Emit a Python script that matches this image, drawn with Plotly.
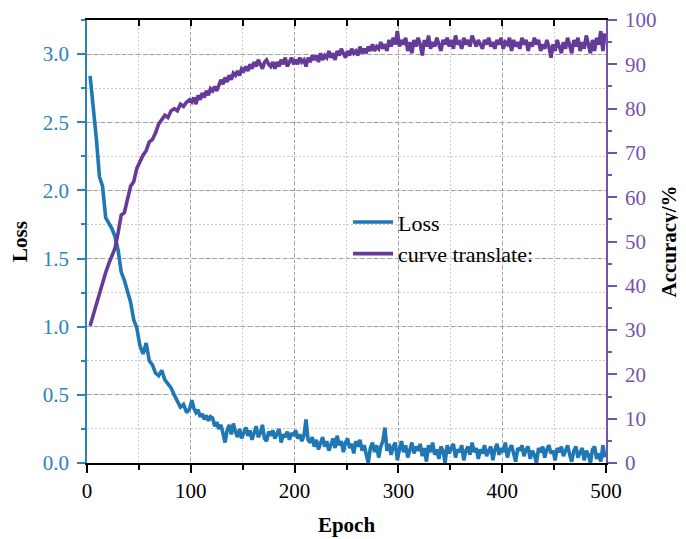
import plotly.graph_objects as go

# read every 3 epochs up to 99, then every 2 epochs
epochs = list(range(3, 100, 3)) + list(range(101, 500, 2))

loss = [
    # 3 .. 99
    2.84, 2.62, 2.38, 2.10, 2.03, 1.80, 1.76, 1.72, 1.66, 1.56,
    1.40, 1.34, 1.26, 1.18, 1.05, 0.99, 0.86, 0.80, 0.88, 0.75,
    0.72, 0.66, 0.64, 0.68, 0.61, 0.58, 0.55, 0.50, 0.46, 0.41,
    0.43, 0.37, 0.40,
    # 101 .. 499
    0.46, 0.40, 0.37, 0.39, 0.34, 0.36, 0.32, 0.35, 0.31, 0.34,
    0.33, 0.27, 0.30, 0.25, 0.28, 0.22, 0.15, 0.24, 0.28, 0.21,
    0.29, 0.23, 0.19, 0.25, 0.18, 0.22, 0.26, 0.20, 0.24, 0.17,
    0.23, 0.27, 0.19, 0.22, 0.28, 0.18, 0.16, 0.23, 0.20, 0.24,
    0.18, 0.22, 0.25, 0.15, 0.21, 0.19, 0.23, 0.17, 0.22, 0.20,
    0.24, 0.18, 0.21, 0.16, 0.20, 0.32, 0.17, 0.15, 0.19, 0.12,
    0.17, 0.10, 0.15, 0.19, 0.12, 0.16, 0.09, 0.14, 0.18, 0.11,
    0.20, 0.13, 0.16, 0.08, 0.15, 0.18, 0.11, 0.14, 0.07, 0.16,
    0.12, 0.17, 0.09, 0.13, 0.05, 0.00, 0.11, 0.15, 0.08, 0.13,
    0.04, 0.12, 0.16, 0.26, 0.09, 0.14, 0.06, 0.12, 0.15, 0.02,
    0.10, 0.16, 0.08, 0.13, 0.04, 0.11, 0.15, 0.07, 0.12, 0.09,
    0.14, 0.05, 0.11, 0.01, 0.13, 0.08, 0.15, 0.06, 0.10, 0.03,
    0.12, 0.09, 0.00, 0.13, 0.07, 0.11, 0.14, 0.04, 0.10, 0.08,
    0.13, 0.02, 0.09, 0.12, 0.06, 0.15, 0.08, 0.11, 0.03, 0.10,
    0.07, 0.13, 0.05, 0.09, 0.12, 0.02, 0.10, 0.14, 0.06, 0.11,
    0.08, 0.15, 0.04, 0.10, 0.13, 0.07, 0.01, 0.11, 0.09, 0.13,
    0.05, 0.10, 0.12, 0.03, 0.09, 0.06, 0.00, 0.11, 0.08, 0.12,
    0.04, 0.10, 0.13, 0.07, 0.09, 0.02, 0.11, 0.08, 0.12, 0.05,
    0.10, 0.13, 0.06, 0.01, 0.09, 0.12, 0.04, 0.08, 0.11, 0.02,
    0.09, 0.06, 0.00, 0.10, 0.12, 0.03, 0.07, 0.01, 0.13, 0.04,
]

accuracy = [
    # 3 .. 99
    31.0, 33.5, 35.5, 38.5, 40.5, 43.0, 45.0, 47.0, 48.5, 52.0,
    56.0, 56.5, 60.0, 62.5, 63.5, 66.5, 68.0, 69.5, 70.5, 72.5,
    73.0, 74.5, 76.5, 77.5, 78.5, 78.0, 79.5, 80.0, 79.5, 81.0,
    80.5, 81.5, 82.0,
    # 101 .. 499
    81.5, 82.5, 81.0, 83.0, 82.0, 83.5, 82.5, 84.0, 83.0, 84.5,
    84.0, 85.0, 84.0, 85.5, 86.5, 85.5, 87.0, 86.0, 87.5, 86.5,
    88.0, 87.5, 88.5, 87.5, 89.0, 88.5, 89.5, 88.5, 90.0, 89.0,
    90.5, 89.5, 91.0, 90.0, 89.0, 90.5, 91.0, 90.0, 89.5, 90.5,
    89.0, 90.5, 89.5, 91.0, 90.0, 91.5, 89.5, 90.5, 91.5, 90.0,
    91.0, 90.0, 91.5, 90.5, 91.0, 89.5, 91.5, 90.5, 92.0, 91.0,
    92.0, 90.5, 92.5, 91.0, 92.0, 91.5, 93.0, 91.5, 92.5, 91.0,
    93.0, 92.0, 93.5, 92.5, 91.5, 93.0, 92.0, 93.5, 92.5, 93.0,
    92.0, 94.0, 92.5, 93.5, 92.5, 94.0, 93.0, 94.5, 93.0, 94.0,
    93.5, 95.0, 93.5, 94.5, 93.0, 95.5, 94.0, 96.0, 94.5, 97.5,
    94.0, 95.5, 94.5, 96.0, 93.0, 95.0, 92.5, 95.5, 94.0, 96.0,
    94.5, 92.0, 95.5, 94.0, 96.5, 93.5, 95.0, 94.0, 96.0, 94.5,
    93.0, 95.5, 94.5, 96.0, 94.0, 95.5, 93.5, 96.5, 94.5, 95.0,
    93.5, 96.0, 94.5, 95.5, 94.0, 96.5, 95.0, 94.0, 95.5, 94.5,
    93.5, 95.5, 94.5, 96.0, 94.0, 95.0, 93.5, 95.5, 94.5, 96.0,
    93.5, 95.0, 94.5, 96.0, 93.0, 95.5, 94.0, 95.0, 93.5, 96.0,
    94.5, 95.5, 93.0, 95.0, 94.0, 96.0, 94.5, 95.5, 93.0, 94.5,
    93.5, 95.5, 94.0, 91.5, 94.5, 93.0, 95.5, 94.0, 92.5, 95.0,
    93.5, 96.0, 94.5, 92.5, 95.5, 94.0, 96.0, 93.0, 95.0, 93.5,
    96.5, 94.0, 92.5, 95.5, 93.0, 96.0, 94.5, 97.5, 93.0, 97.0,
]

x_ticks = [0, 100, 200, 300, 400, 500]
loss_ticks = [0.0, 0.5, 1.0, 1.5, 2.0, 2.5, 3.0]
acc_ticks = [0, 10, 20, 30, 40, 50, 60, 70, 80, 90, 100]

BLUE = '#1f77b4'
BLUE_TXT = '#2b82bd'
PURPLE = '#663a98'
PURPLE_TXT = '#7752aa'
FONT = 'Liberation Serif'

fig = go.Figure()
fig.add_trace(go.Scatter(x=epochs, y=loss, mode='lines', name='Loss',
                         line=dict(color=BLUE, width=3.6)))
fig.add_trace(go.Scatter(x=epochs, y=accuracy, mode='lines', name='curve translate:',
                         yaxis='y2', line=dict(color=PURPLE, width=3.6)))
# empty trace so the top frame axis gets drawn
fig.add_trace(go.Scatter(x=[None], y=[None], xaxis='x2', showlegend=False,
                         hoverinfo='skip'))

# page body has an 8px margin, so the figure is a bit smaller and shifted
fig.update_layout(
    width=678, height=531,
    margin=dict(l=79, r=80, t=12, b=76),
    paper_bgcolor='white', plot_bgcolor='white',
    font=dict(family=FONT, size=21, color='black'),
    showlegend=True,
    legend=dict(x=0.503, y=0.591, xanchor='left', yanchor='top',
                bgcolor='rgba(0,0,0,0)', font=dict(family=FONT, size=22),
                tracegroupgap=0, itemwidth=40),
    xaxis=dict(range=[0, 500], tickvals=x_ticks, ticks='outside', ticklen=8,
               tickwidth=1.5, tickcolor='black', showline=True, linecolor='black',
               linewidth=1.5, zeroline=False, automargin=False,
               showgrid=True, gridcolor='#a0a0a0', griddash='3px,3px', gridwidth=1,
               minor=dict(dtick=50, ticks='outside', ticklen=5, tickcolor='black',
                          showgrid=True, gridcolor='#d0d0d0', griddash='2px,2px'),
               title=dict(text='<b>Epoch</b>', font=dict(size=21), standoff=15),
               tickfont=dict(size=21, color='black')),
    xaxis2=dict(range=[0, 500], overlaying='x', side='top', anchor='y',
                tickvals=[0, 50, 100, 150, 200, 250, 300, 350, 400, 450, 500],
                ticks='inside', ticklen=6, tickwidth=1.5, tickcolor='black',
                showticklabels=False, showline=True, linecolor='black',
                linewidth=1.5, showgrid=False, zeroline=False, automargin=False),
    yaxis=dict(range=[0, 3.25], tickvals=loss_ticks,
               ticktext=['%.1f' % v for v in loss_ticks],
               ticks='outside', ticklen=8, tickwidth=1.5, tickcolor=BLUE_TXT,
               ticklabelstandoff=4, automargin=False,
               showline=True, linecolor=BLUE_TXT, linewidth=1.5, zeroline=False,
               showgrid=True, gridcolor='#a0a0a0', griddash='4px,3px', gridwidth=1,
               minor=dict(dtick=0.25, ticks='outside', ticklen=4, tickcolor=BLUE_TXT,
                          showgrid=True, gridcolor='#c8c8c8', griddash='2px,2px'),
               tickfont=dict(size=21, color=BLUE_TXT),
               title=dict(text='<b>Loss</b>', font=dict(size=21, color='black'),
                          standoff=14)),
    yaxis2=dict(range=[0, 100], overlaying='y', side='right', anchor='x',
                tickvals=acc_ticks, ticks='outside', ticklen=9, tickwidth=1.5,
                tickcolor=PURPLE_TXT, showline=True, linecolor=PURPLE_TXT,
                ticklabelstandoff=4, automargin=False,
                linewidth=1.5, showgrid=False, zeroline=False,
                minor=dict(dtick=5, ticks='outside', ticklen=4, tickcolor=PURPLE_TXT,
                           showgrid=False),
                tickfont=dict(size=21, color=PURPLE_TXT),
                title=dict(text='<b>Accuracy/%</b>', font=dict(size=21, color='black'),
                           standoff=6)),
)

fig.write_html("out.html")
